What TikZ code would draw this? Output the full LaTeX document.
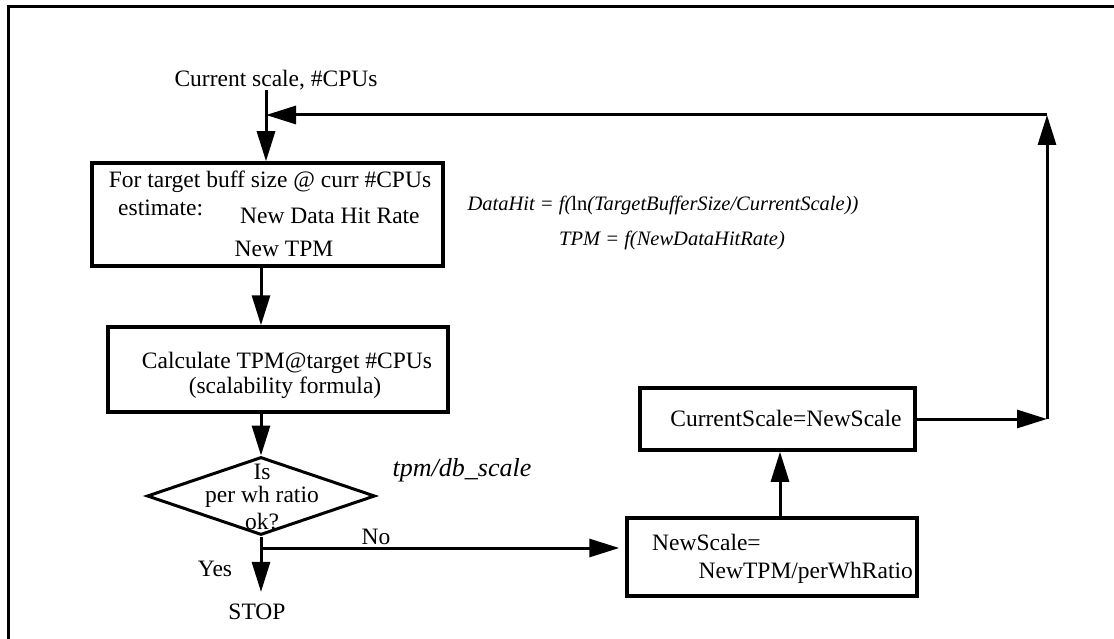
\documentclass[tikz,border=0pt]{standalone}
\usepackage{fontspec}
\setmainfont{Liberation Serif}
\usetikzlibrary{arrows.meta,shapes.geometric}
\begin{document}
\begin{tikzpicture}[x=1pt,y=-1pt,
  box/.style={draw,line width=3.5pt,inner sep=0pt},
  lbl/.style={inner sep=0pt,font=\fontsize{23.5}{28}\selectfont},
  frm/.style={inner sep=0pt,font=\fontsize{20.5}{24}\selectfont\itshape},
  conn/.style={line width=3pt,-{Triangle[length=30pt,width=18pt]}},
  wire/.style={line width=3pt}]
\useasboundingbox (0,0) rectangle (1114,639);
\draw[line width=3pt] (8,645) -- (8,7) -- (1120,7);

% boxes
\node[box,minimum width=351pt,minimum height=103pt] (b1) at (267.5,214.5) {};
\node[box,minimum width=340pt,minimum height=85pt] (b2) at (278,369.5) {};
\node[box,diamond,minimum width=228pt,minimum height=78pt,line width=3pt] (d) at (261,496) {};
\node[box,minimum width=275pt,minimum height=62pt] (b3) at (777.5,419) {};
\node[box,minimum width=290pt,minimum height=78pt] (b4) at (772,557) {};

% texts
\node[lbl] (cur) at (276,80) {Current scale, \#CPUs};
\node[lbl] (t1a) at (270,182) {For target buff size @ curr \#CPUs};
\node[lbl,anchor=west] (t1b) at (118,208) {estimate:};
\node[lbl,anchor=west] (t1c) at (240,216) {New Data Hit Rate};
\node[lbl] (t1d) at (284,249) {New TPM};
\node[lbl] (t2a) at (287,363) {Calculate TPM@target \#CPUs};
\node[lbl] (t2b) at (285,388) {(scalability formula)};
\node[lbl] (tda) at (262,472) {Is};
\node[lbl] (tdb) at (262,497) {per wh ratio};
\node[lbl] (tdc) at (262,522) {ok?};
\node[lbl] (t3) at (786,418) {CurrentScale=NewScale};
\node[lbl,anchor=west] (t4a) at (652,542) {NewScale=};
\node[lbl,anchor=east] (t4b) at (913,573) {NewTPM/perWhRatio};
\node[lbl] (yes) at (215,569) {Yes};
\node[lbl] (stop) at (257,612) {STOP};
\node[lbl] (no) at (376,537) {No};
\node[frm,font=\fontsize{26}{30}\selectfont\itshape] (tpm) at (462,470) {tpm/db\_scale};
\node[frm] (f1) at (663,205) {DataHit = f({\upshape ln}(TargetBufferSize/CurrentScale))};
\node[frm] (f2) at (672,240) {TPM = f(NewDataHitRate)};

% connectors
\coordinate (j) at (266,115);
\coordinate (rc) at (1047,419);
\coordinate (tc) at (1047,115);
\coordinate (nb) at (262,548);
\draw[wire] (j |- cur.south) -- (j);
\draw[conn] (j) -- (j |- b1.north);
\draw[conn] (d |- b1.south) -- (d |- b2.north);
\draw[conn] (d |- b2.south) -- (d.north);
\draw[conn] (d.south) -- ([yshift=12pt]d.south |- stop.north);
\draw[conn] (nb) -- ([xshift=-6pt]nb -| b4.west);
\draw[conn] ([xshift=8pt]b4.north) -- ([xshift=8pt]b4.north |- b3.south);
\draw[conn] (b3.east) -- (b3.east -| rc);
\draw[conn] (rc) -- (tc);
\draw[conn] (tc) -- (j);
\end{tikzpicture}
\end{document}
